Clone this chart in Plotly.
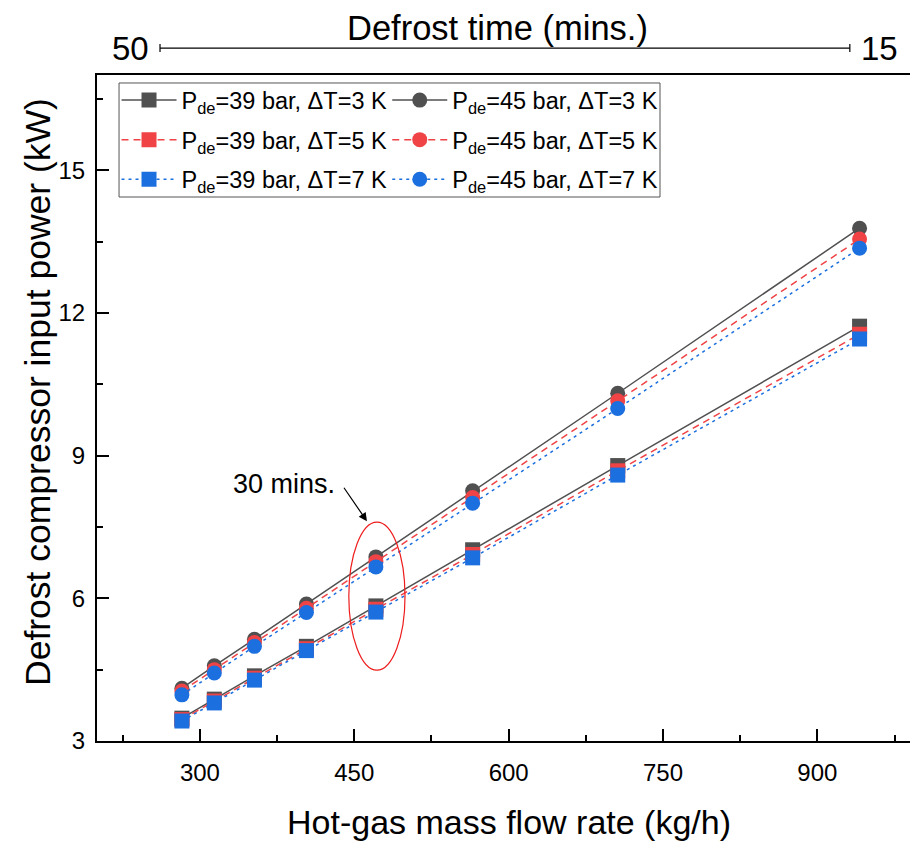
import plotly.graph_objects as go

# ---- data ----
flow_rate = [282.5, 314, 353, 403.5, 471, 565, 706, 941]  # kg/h
p39_dt3 = [3.48, 3.88, 4.37, 4.99, 5.84, 7.02, 8.79, 11.72]
p39_dt5 = [3.45, 3.84, 4.32, 4.94, 5.77, 6.92, 8.68, 11.55]
p39_dt7 = [3.42, 3.80, 4.28, 4.90, 5.71, 6.85, 8.59, 11.45]
p45_dt3 = [4.11, 4.58, 5.14, 5.88, 6.87, 8.26, 10.31, 13.78]
p45_dt5 = [4.05, 4.50, 5.07, 5.79, 6.77, 8.12, 10.15, 13.55]
p45_dt7 = [3.97, 4.43, 4.99, 5.70, 6.66, 8.00, 9.99, 13.36]
top_tick_labels = ["50", "15"]

GREY = "#505050"
RED = "#f04346"
BLUE = "#1b6fde"
FONT = "Liberation Sans, Arial, sans-serif"

series = [
    ("P<sub>de</sub>=39 bar, ΔT=3 K", p39_dt3, GREY, "solid", "square", "legend"),
    ("P<sub>de</sub>=45 bar, ΔT=3 K", p45_dt3, GREY, "solid", "circle", "legend2"),
    ("P<sub>de</sub>=39 bar, ΔT=5 K", p39_dt5, RED, "7px,5px", "square", "legend"),
    ("P<sub>de</sub>=45 bar, ΔT=5 K", p45_dt5, RED, "7px,5px", "circle", "legend2"),
    ("P<sub>de</sub>=39 bar, ΔT=7 K", p39_dt7, BLUE, "3px,4px", "square", "legend"),
    ("P<sub>de</sub>=45 bar, ΔT=7 K", p45_dt7, BLUE, "3px,4px", "circle", "legend2"),
]

fig = go.Figure()
for i, (name, ys, col, dash, sym, leg) in enumerate(series):
    fig.add_trace(go.Scatter(
        x=flow_rate, y=ys, name=name, mode="lines+markers",
        line=dict(color=col, width=1.5, dash=dash),
        marker=dict(symbol=sym, size=15, color=col, line=dict(width=0)),
        legend=leg, legendgroup=f"g{i}",
    ))

legend_common = dict(
    font=dict(family=FONT, size=23.5, color="black"),
    bgcolor="rgba(0,0,0,0)", borderwidth=0,
    itemwidth=55, tracegroupgap=6,
    xanchor="left", yanchor="top",
)

fig.update_layout(
    width=912, height=843,
    margin=dict(l=97, r=2, t=75, b=102),
    paper_bgcolor="white", plot_bgcolor="white",
    font=dict(family=FONT, color="black"),
    legend=dict(x=0.024, y=0.995, **legend_common),
    legend2=dict(x=0.357, y=0.995, **legend_common),
    xaxis=dict(
        range=[200, 990], tickmode="linear", tick0=0, dtick=150,
        ticks="inside", ticklen=12, tickwidth=2, tickcolor="black",
        minor=dict(dtick=75, tick0=0, ticks="inside", ticklen=6, tickwidth=2, tickcolor="black"),
        showline=True, linewidth=2, linecolor="black", mirror=True,
        showgrid=False, zeroline=False,
        tickfont=dict(size=24, family=FONT), ticklabelstandoff=9,
    ),
    yaxis=dict(
        range=[3, 17], tickmode="linear", tick0=0, dtick=3,
        ticks="inside", ticklen=12, tickwidth=2, tickcolor="black",
        minor=dict(dtick=1.5, tick0=0, ticks="inside", ticklen=6, tickwidth=2, tickcolor="black"),
        showline=True, linewidth=2, linecolor="black",
        showgrid=False, zeroline=False,
        tickfont=dict(size=24, family=FONT), ticklabelstandoff=5,
    ),
)

# axis titles
fig.add_annotation(xref="paper", yref="paper", x=0.507, y=-0.1216, text="Hot-gas mass flow rate (kg/h)",
                   showarrow=False, font=dict(size=34, family=FONT), xanchor="center", yanchor="middle")
fig.add_annotation(xref="paper", yref="paper", x=-0.0726, y=0.524, text="Defrost compressor input power (kW)",
                   showarrow=False, textangle=-90, font=dict(size=35.5, family=FONT),
                   xanchor="center", yanchor="middle")

# legend frame
fig.add_shape(type="rect", xref="paper", yref="paper",
              x0=0.0271, x1=0.6925, y0=0.8168, y1=0.988,
              line=dict(color="#555555", width=1), fillcolor="rgba(0,0,0,0)")

# top "Defrost time" axis (decorative)
ytop = 1.0405
fig.add_shape(type="line", xref="paper", yref="paper", x0=0.0775, x1=0.926, y0=ytop, y1=ytop,
              line=dict(color="black", width=1.2))
for xx in (0.0775, 0.926):
    fig.add_shape(type="line", xref="paper", yref="paper", x0=xx, x1=xx, y0=ytop - 0.006, y1=ytop + 0.006,
                  line=dict(color="black", width=1.2))
fig.add_annotation(xref="paper", yref="paper", x=0.0406, y=ytop, text=top_tick_labels[0], showarrow=False,
                   font=dict(size=33, family=FONT), xanchor="center", yanchor="middle")
fig.add_annotation(xref="paper", yref="paper", x=0.963, y=ytop, text=top_tick_labels[1], showarrow=False,
                   font=dict(size=33, family=FONT), xanchor="center", yanchor="middle")
fig.add_annotation(xref="paper", yref="paper", x=0.493, y=1.0706, text="Defrost time (mins.)", showarrow=False,
                   font=dict(size=34.5, family=FONT), xanchor="center", yanchor="middle")

# 30 mins ellipse and arrow
fig.add_shape(type="circle", xref="x", yref="y", x0=444.7, x1=499.3, y0=4.49, y1=7.60,
              line=dict(color="#ee1c1c", width=1.2))
fig.add_annotation(x=462.3, y=7.62, xref="x", yref="y", text="", showarrow=True,
                   ax=-24, ay=-35, arrowhead=2, arrowsize=1.4, arrowwidth=1.2, arrowcolor="black")
fig.add_annotation(x=381.4, y=8.40, xref="x", yref="y", text="30 mins.", showarrow=False,
                   font=dict(size=27, family=FONT), xanchor="center", yanchor="middle")

fig.write_html("out.html")
